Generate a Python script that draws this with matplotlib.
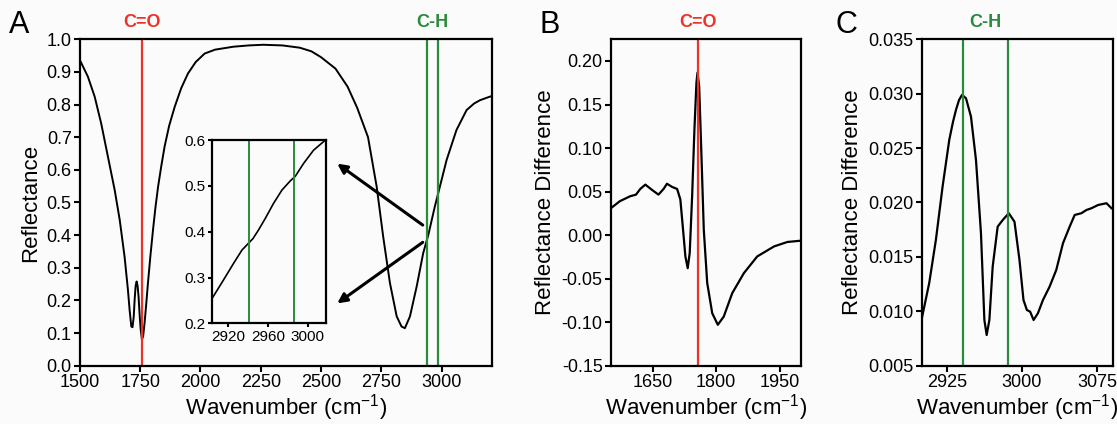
import matplotlib
matplotlib.use('Agg')
import matplotlib.pyplot as plt

plt.rcParams['font.family'] = ['Liberation Sans', 'DejaVu Sans']
plt.rcParams['mathtext.fontset'] = 'custom'
plt.rcParams['mathtext.rm'] = 'Liberation Sans'
plt.rcParams['mathtext.default'] = 'regular'

#---------------------------------------
# data

# panel A : reflectance spectrum
wn_A = [1500, 1503, 1533, 1561, 1588, 1616, 1644, 1665, 1685, 1699, 1706, 1713, 1718, 1723, 1727,
        1731, 1735, 1739, 1743, 1748, 1752, 1757, 1762, 1768, 1775, 1782, 1792, 1803, 1813, 1824,
        1837, 1851, 1870, 1893, 1920, 1948, 1980, 2017, 2060, 2136, 2200, 2260, 2340, 2412, 2460,
        2500, 2560, 2610, 2650, 2695, 2731, 2758, 2786, 2814, 2834, 2848, 2869, 2897, 2924, 2945,
        2972, 2993, 3021, 3062, 3104, 3135, 3159, 3200, 3210]
refl_A = [0.935, 0.931, 0.885, 0.824, 0.742, 0.64, 0.538, 0.446, 0.334, 0.232, 0.17, 0.12, 0.118,
          0.15, 0.205, 0.245, 0.258, 0.245, 0.212, 0.15, 0.11, 0.08, 0.09, 0.131, 0.19, 0.253,
          0.335, 0.416, 0.484, 0.548, 0.61, 0.671, 0.735, 0.793, 0.85, 0.895, 0.93, 0.956, 0.968,
          0.977, 0.981, 0.983, 0.981, 0.974, 0.963, 0.945, 0.91, 0.855, 0.79, 0.70, 0.548, 0.395,
          0.253, 0.151, 0.12, 0.115, 0.151, 0.243, 0.345, 0.40, 0.487, 0.548, 0.63, 0.722, 0.783,
          0.803, 0.813, 0.824, 0.826]

# inset of panel A
wn_in = [2904, 2915.6, 2925.6, 2934, 2940.6, 2945, 2950.6, 2957.3, 2965.6, 2974, 2982.3,
         2987.3, 2995.6, 3005.6, 3016.3]
refl_in = [0.254, 0.295, 0.331, 0.36, 0.375, 0.385, 0.404, 0.429, 0.462, 0.491, 0.511,
           0.521, 0.549, 0.578, 0.598]

# panel B : reflectance difference, C=O region
wn_B = [1552, 1573, 1597, 1611, 1621, 1633, 1648.6, 1664, 1676, 1684, 1696, 1708, 1715.6, 1722,
        1727.5, 1733, 1737.7, 1743.4, 1748.8, 1753.6, 1756, 1760, 1764.7, 1770.9, 1779, 1790.8,
        1804, 1818, 1838, 1865.6, 1897, 1936.7, 1968, 2000]
diff_B = [0.031, 0.039, 0.0446, 0.0465, 0.053, 0.058, 0.052, 0.0465, 0.053, 0.059, 0.0554, 0.053,
          0.041, 0.0062, -0.0245, -0.038, -0.0206, 0.0446, 0.121, 0.175, 0.1866, 0.171, 0.102,
          0.0062, -0.055, -0.0897, -0.103, -0.0936, -0.0667, -0.0436, -0.0245, -0.013, -0.0079, -0.0064]

# panel C : reflectance difference, C-H region
wn_C = [2899.5, 2907.2, 2913.9, 2920.6, 2927.3, 2931, 2934, 2937, 2940, 2944, 2949, 2954, 2959,
        2962.4, 2964.7, 2967.4, 2970.7, 2975.7, 2980.8, 2986.8, 2992.5, 2997.5, 3001.5, 3004.9,
        3008.2, 3011.6, 3015.9, 3021, 3027.6, 3034.3, 3041, 3047.7, 3052.7, 3059.4, 3064.5,
        3069.5, 3076.2, 3084.5, 3089.5]
diff_C = [0.0092, 0.01257, 0.01655, 0.02145, 0.02575, 0.0274, 0.0285, 0.0294, 0.02988, 0.02958,
          0.02789, 0.02391, 0.01717, 0.0092, 0.00782, 0.0092, 0.0141, 0.01778, 0.01839, 0.01901,
          0.01823, 0.01472, 0.01104, 0.01012, 0.00996, 0.0092, 0.00981, 0.01104, 0.01226, 0.0138,
          0.01625, 0.01778, 0.01885, 0.01901, 0.01931, 0.01947, 0.01977, 0.01993, 0.01947]

co_line = 1758
ch_lines = [2941, 2986]
#--------------------------------------

red = '#ec3329'
green = '#2a8b3c'
bg = '#fbfbfb'
xlab = 'Wavenumber (cm$^{-1}$)'


def style(ax, tsize=13):
    for s in ['left', 'bottom', 'right', 'top']:
        ax.spines[s].set_linewidth(1.6)
    ax.tick_params(direction='out', width=1.5, length=4, labelsize=tsize, pad=2)
    ax.set_facecolor(bg)


fig = plt.figure(figsize=(11.17, 4.24), dpi=100)
fig.patch.set_facecolor(bg)

# ---- A
axA = fig.add_axes([0.0716, 0.1375, 0.369, 0.770])
axA.plot(wn_A, refl_A, color='black', lw=1.4)
axA.axvline(co_line, color=red, lw=1.6)
for v in ch_lines:
    axA.axvline(v, color=green, lw=1.6)
axA.set_xlim(1500, 3210)
axA.set_ylim(0, 1.0)
axA.set_xticks([1500, 1750, 2000, 2250, 2500, 2750, 3000])
axA.set_yticks([i / 10 for i in range(11)])
axA.set_yticklabels(['%.1f' % (i / 10) for i in range(11)])
style(axA)
axA.set_xlabel(xlab, fontsize=16, labelpad=1)
axA.set_ylabel('Reflectance', fontsize=16, labelpad=4)
axA.text(co_line, 1.025, 'C=O', color=red, fontsize=13, fontweight='bold',
         ha='center', va='bottom', transform=axA.get_xaxis_transform())
axA.text(sum(ch_lines) / 2, 1.025, 'C-H', color=green, fontsize=13, fontweight='bold',
         ha='center', va='bottom', transform=axA.get_xaxis_transform())

# inset
axI = fig.add_axes([0.1898, 0.2375, 0.102, 0.432])
axI.plot(wn_in, refl_in, color='black', lw=1.2)
for v in ch_lines:
    axI.axvline(v, color=green, lw=1.4)
axI.set_xlim(2904, 3018)
axI.set_ylim(0.2, 0.6)
axI.set_xticks([2920, 2960, 3000])
axI.set_yticks([0.2, 0.3, 0.4, 0.5, 0.6])
style(axI, tsize=11)
axI.tick_params(length=3)

# arrows from the curve to the inset
fig.add_artist(matplotlib.patches.FancyArrowPatch(
    (425 / 1117, 1 - 226.7 / 424), (335 / 1117, 1 - 162 / 424), transform=fig.transFigure,
    arrowstyle='-|>', mutation_scale=14, lw=2.2, color='black'))
fig.add_artist(matplotlib.patches.FancyArrowPatch(
    (425 / 1117, 1 - 240.7 / 424), (335 / 1117, 1 - 305 / 424), transform=fig.transFigure,
    arrowstyle='-|>', mutation_scale=14, lw=2.2, color='black'))

# ---- B
axB = fig.add_axes([0.547, 0.1375, 0.170, 0.770])
axB.plot(wn_B, diff_B, color='black', lw=1.6)
axB.axvline(co_line, color=red, lw=1.6)
axB.set_xlim(1552, 2000)
axB.set_ylim(-0.15, 0.225)
axB.set_xticks([1650, 1800, 1950])
axB.set_yticks([-0.15, -0.10, -0.05, 0.0, 0.05, 0.10, 0.15, 0.20])
axB.set_yticklabels(['%.2f' % v for v in [-0.15, -0.10, -0.05, 0.0, 0.05, 0.10, 0.15, 0.20]])
style(axB)
axB.set_xlabel(xlab, fontsize=16, labelpad=1)
axB.set_ylabel('Reflectance Difference', fontsize=16, labelpad=4)
axB.text(co_line, 1.025, 'C=O', color=red, fontsize=13, fontweight='bold',
         ha='center', va='bottom', transform=axB.get_xaxis_transform())

# ---- C
axC = fig.add_axes([0.8254, 0.1375, 0.171, 0.770])
axC.plot(wn_C, diff_C, color='black', lw=1.6)
for v in ch_lines:
    axC.axvline(v, color=green, lw=1.6)
axC.set_xlim(2900, 3091)
axC.set_ylim(0.005, 0.035)
axC.set_xticks([2925, 3000, 3075])
axC.set_yticks([0.005, 0.010, 0.015, 0.020, 0.025, 0.030, 0.035])
axC.set_yticklabels(['%.3f' % v for v in [0.005, 0.010, 0.015, 0.020, 0.025, 0.030, 0.035]])
style(axC)
axC.set_xlabel(xlab, fontsize=16, labelpad=1)
axC.set_ylabel('Reflectance Difference', fontsize=16, labelpad=4)
axC.text(sum(ch_lines) / 2, 1.025, 'C-H', color=green, fontsize=13, fontweight='bold',
         ha='center', va='bottom', transform=axC.get_xaxis_transform())

# panel letters
fig.text(0.008, 0.905, 'A', fontsize=22, va='bottom')
fig.text(0.483, 0.905, 'B', fontsize=22, va='bottom')
fig.text(0.748, 0.905, 'C', fontsize=22, va='bottom')

plt.savefig('out.png', dpi=100, facecolor=bg)
